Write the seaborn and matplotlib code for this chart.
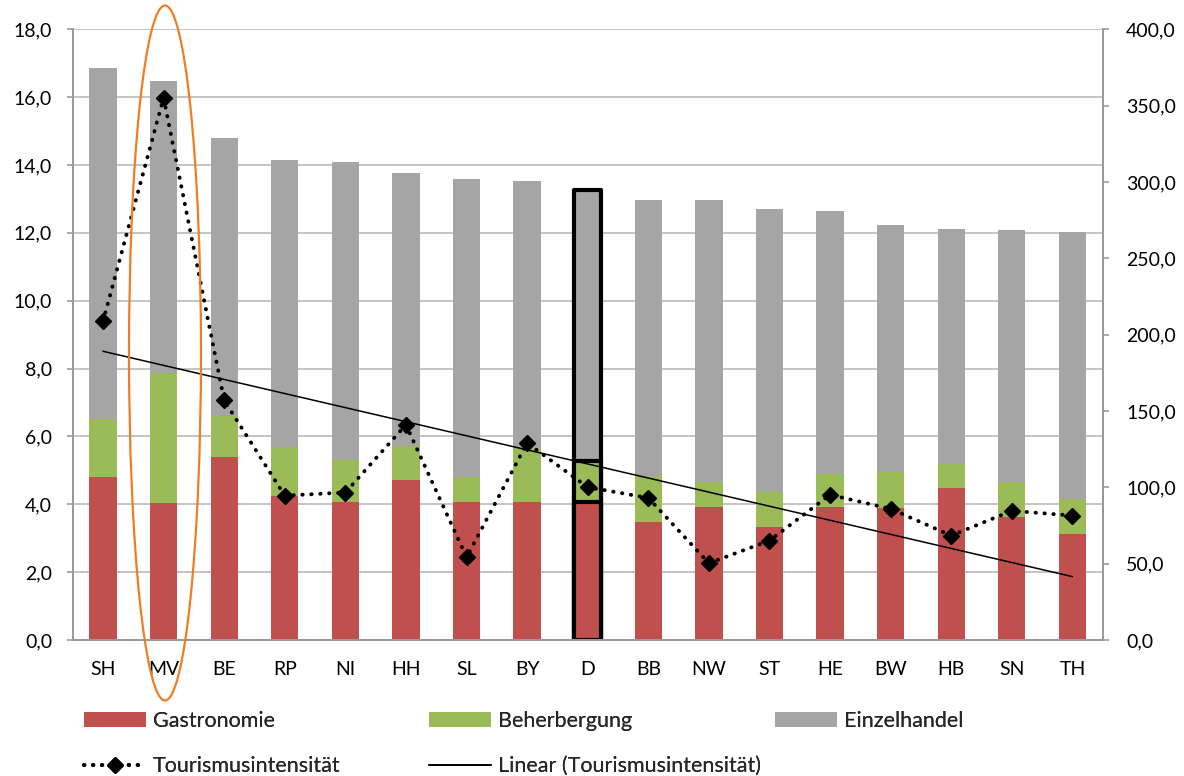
import numpy as np
import pandas as pd
import matplotlib
matplotlib.use("Agg")
import matplotlib.pyplot as plt
import seaborn as sns
from matplotlib.patches import Ellipse, Patch
from matplotlib.lines import Line2D
from matplotlib.ticker import FuncFormatter, FixedLocator

# Bundesländer (D = Deutschland gesamt)
laender = ["SH", "MV", "BE", "RP", "NI", "HH", "SL", "BY", "D",
           "BB", "NW", "ST", "HE", "BW", "HB", "SN", "TH"]
gastronomie = [4.79, 4.05, 5.38, 4.23, 4.08, 4.72, 4.08, 4.08, 4.06,
               3.47, 3.93, 3.32, 3.93, 3.90, 4.48, 3.62, 3.11]
beherbergung = [1.72, 3.82, 1.23, 1.45, 1.23, 1.00, 0.71, 1.58, 1.22,
                1.35, 0.74, 1.04, 0.96, 1.04, 0.71, 1.05, 1.04]
einzelhandel = [10.36, 8.60, 8.19, 8.47, 8.79, 8.03, 8.79, 7.86, 7.99,
                8.14, 8.29, 8.34, 7.76, 7.29, 6.93, 7.41, 7.87]
tourismusintensitaet = [208.7, 355.2, 156.9, 94.6, 96.6, 141.0, 54.2, 129.0, 100.1,
                        93.1, 50.3, 65.1, 95.1, 85.9, 68.4, 84.6, 81.5]
left_ticks = [0, 2, 4, 6, 8, 10, 12, 14, 16, 18]
right_ticks = [0, 50, 100, 150, 200, 250, 300, 350, 400]

C_GASTRO = "#C0504D"
C_BEHERB = "#9BBB59"
C_EINZEL = "#A5A5A5"
C_GRID = "#BFBFBF"
C_AXIS = "#9A9A9A"

sns.set_theme(style="white")
plt.rcParams["font.family"] = ["Lato", "DejaVu Sans"]
FS = 14
FS_LEG = 15.5

df = pd.DataFrame({"land": laender, "g": gastronomie, "b": beherbergung, "e": einzelhandel})
df["gb"] = df["g"] + df["b"]
df["gbe"] = df["gb"] + df["e"]

fig = plt.figure(figsize=(11.84, 7.76), dpi=100)
ax = fig.add_axes([72.7 / 1184, 1 - 640 / 776, 1030 / 1184, (640 - 29.3) / 776])

# stacked columns, drawn as layered cumulative bars
for col, colour in (("gbe", C_EINZEL), ("gb", C_BEHERB), ("g", C_GASTRO)):
    sns.barplot(data=df, x="land", y=col, order=laender, color=colour,
                saturation=1, width=0.45, linewidth=0, ax=ax, errorbar=None)

# outline the national total column
n = len(laender)
d_idx = laender.index("D")
for layer in range(3):
    p = ax.patches[layer * n + d_idx]
    p.set_edgecolor("black")
    p.set_linewidth(3.0)
    p.set_joinstyle("round")

ax.set_xlim(-0.5, n - 0.5)
ax.set_ylim(0, 18)
ax.set_axisbelow(True)
ax.yaxis.set_major_locator(FixedLocator(left_ticks))
ax.yaxis.set_major_formatter(FuncFormatter(lambda v, _: f"{v:.1f}".replace(".", ",")))
ax.grid(axis="y", color=C_GRID, linewidth=1.3)
ax.grid(axis="x", visible=False)
ax.set_xlabel("")
ax.set_ylabel("")
ax.set_xticks(np.arange(n))
ax.set_xticklabels(laender)
ax.set_xticks(np.arange(n + 1) - 0.5, minor=True)
ax.tick_params(axis="x", which="major", length=0, pad=15, labelsize=FS, colors="black")
ax.tick_params(axis="x", which="minor", length=4, width=1.2, color=C_AXIS, direction="out")
ax.tick_params(axis="y", length=4.3, width=1.2, color=C_AXIS, pad=10.5,
               labelsize=FS, labelcolor="black", left=True, direction="out")
for side in ("left", "bottom", "right"):
    ax.spines[side].set_color(C_AXIS)
    ax.spines[side].set_linewidth(1.3)
ax.spines["top"].set_visible(False)

# secondary axis: Tourismusintensität
ax2 = ax.twinx()
x_pos = np.arange(n)
sns.lineplot(x=x_pos, y=tourismusintensitaet, ax=ax2, sort=False, color="black",
             linewidth=2.8, linestyle=(0, (0.1, 2.2)), dash_capstyle="round",
             marker="D", markersize=8.5, markerfacecolor="black",
             markeredgecolor="black", markeredgewidth=1)
sns.regplot(x=x_pos, y=tourismusintensitaet, ax=ax2, scatter=False, ci=None,
            truncate=True, line_kws=dict(color="black", linewidth=1.1))
ax2.set_xlim(-0.5, n - 0.5)
ax2.set_ylim(0, 400)
ax2.yaxis.set_major_locator(FixedLocator(right_ticks))
ax2.yaxis.set_major_formatter(FuncFormatter(lambda v, _: f"{v:.1f}".replace(".", ",")))
ax2.tick_params(axis="y", length=4.3, width=1.2, color=C_AXIS, pad=12.5,
                labelsize=FS, labelcolor="black", right=True, direction="out")
ax2.grid(False)
ax2.set_xlabel("")
ax2.set_ylabel("")
for side in ("left", "bottom", "right"):
    ax2.spines[side].set_color(C_AXIS)
    ax2.spines[side].set_linewidth(1.3)
ax2.spines["top"].set_visible(False)

# highlight around MV
ell = Ellipse((165 / 1184, 1 - 353 / 776), 72 / 1184, 695 / 776,
              transform=fig.transFigure, fill=False, edgecolor="#F07D24",
              linewidth=1.6, clip_on=False)
fig.add_artist(ell)

# legend entries
entries = [
    (Patch(facecolor=C_GASTRO, edgecolor="none"), "Gastronomie", 84, 721),
    (Patch(facecolor=C_BEHERB, edgecolor="none"), "Beherbergung", 429, 721),
    (Patch(facecolor=C_EINZEL, edgecolor="none"), "Einzelhandel", 775, 721),
    (Line2D([], [], color="black", linewidth=2.8, linestyle=(0, (0.1, 2.2)),
            dash_capstyle="round", marker="D", markersize=8.5,
            markerfacecolor="black", markeredgecolor="black"),
     "Tourismusintensität", 84, 766),
    (Line2D([], [], color="black", linewidth=1.3), "Linear (Tourismusintensität)", 429, 766),
]
for handle, label, px, py in entries:
    leg = fig.legend([handle], [label], loc="center left",
                     bbox_to_anchor=(px / 1184, 1 - py / 776),
                     frameon=False, fontsize=FS_LEG, borderpad=0, borderaxespad=0,
                     handlelength=2.88, handleheight=0.65, handletextpad=0.33,
                     numpoints=1)
    fig.add_artist(leg)

fig.savefig("out.png", dpi=100)
